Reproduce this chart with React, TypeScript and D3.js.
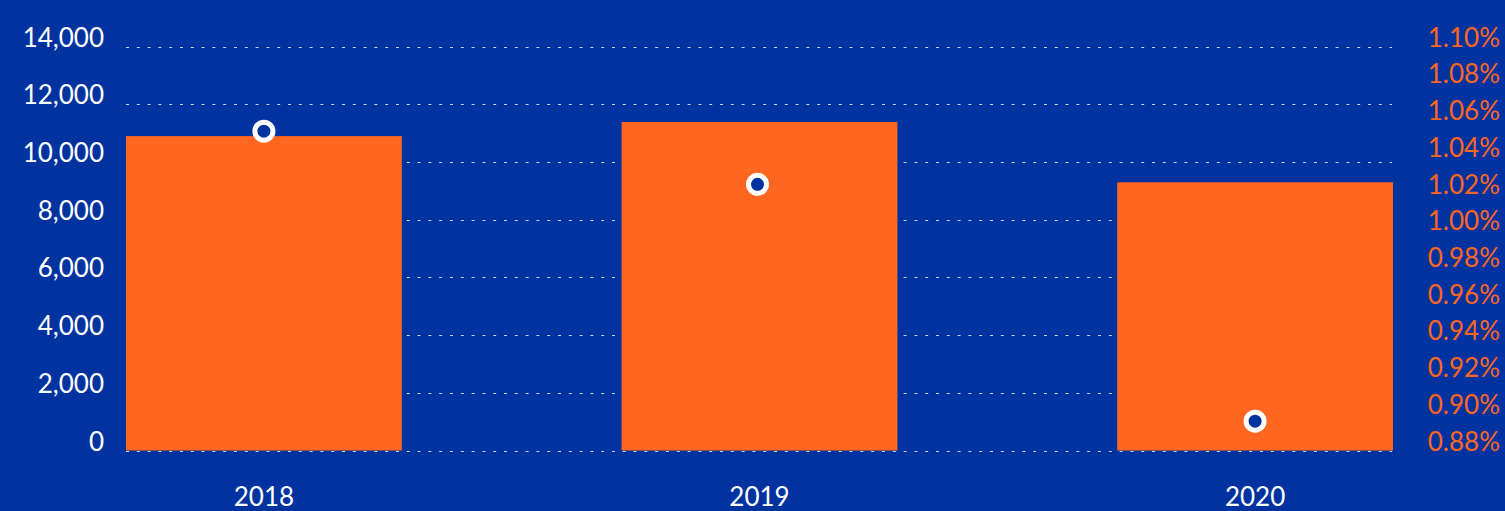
import React, { useEffect } from 'react';
import * as d3 from 'd3';

const years = ['2018', '2019', '2020'];
const volumes = [10900, 11390, 9300];
const rates = [1.054, 1.025, 0.896];
const leftTicks = [0, 2000, 4000, 6000, 8000, 10000, 12000, 14000];
const rightTicks = [0.88, 0.9, 0.92, 0.94, 0.96, 0.98, 1.0, 1.02, 1.04, 1.06, 1.08, 1.1];

const W = 1505;
const H = 511;
const BLUE = '#0033a0';
const ORANGE = '#ff6720';
const FONT = 'Lato, "Open Sans", sans-serif';

export default function App() {
  useEffect(() => {
    document.body.style.margin = '0';
  }, []);

  const x = d3.scaleBand<string>().domain(years).range([126, 1393]).paddingInner(0.4435).paddingOuter(0);
  const yLeft = d3.scaleLinear().domain([0, 14000]).range([450.5, 46.7]);
  const yRight = d3.scaleLinear().domain([0.88, 1.1]).range([450.5, 46.7]);
  const fmt = d3.format(',');

  const grid = (t: number, i: number) => (
    <line
      key={'g' + i}
      x1={126}
      x2={1392}
      y1={Math.round(yLeft(t)) + 0.5}
      y2={Math.round(yLeft(t)) + 0.5}
      stroke="#c9d3ee"
      strokeWidth={1}
      strokeDasharray="3,7.8"
    />
  );

  return (
    <svg width={W} height={H} style={{ display: 'block', background: BLUE }}>
      <rect width={W} height={H} fill={BLUE} />
      {/* gridlines */}
      {leftTicks.filter(t => t > 0).map(grid)}

      {/* bars */}
      {years.map((yr, i) => (
        <rect
          key={yr}
          x={x(yr)}
          y={yLeft(volumes[i])}
          width={x.bandwidth()}
          height={yLeft(0) - yLeft(volumes[i])}
          fill={ORANGE}
        />
      ))}
      {grid(0, 99)}

      {/* rate markers */}
      {years.map((yr, i) => (
        <circle
          key={'c' + yr}
          cx={(x(yr) as number) + x.bandwidth() / 2 - (i === 1 ? 2 : 0)}
          cy={yRight(rates[i])}
          r={9}
          fill={BLUE}
          stroke="#ffffff"
          strokeWidth={5}
        />
      ))}

      {/* left axis */}
      {leftTicks.map(t => (
        <text key={'l' + t} x={104} y={yLeft(t)} textAnchor="end" fill="#ffffff" fontFamily={FONT} fontSize={26}>
          {fmt(t)}
        </text>
      ))}

      {/* right axis */}
      {rightTicks.map(t => (
        <text key={'r' + t} x={1500} y={yRight(t)} textAnchor="end" fill={ORANGE} fontFamily={FONT} fontSize={26}>
          {t.toFixed(2) + '%'}
        </text>
      ))}

      {/* x axis */}
      {years.map(yr => (
        <text
          key={'x' + yr}
          x={(x(yr) as number) + x.bandwidth() / 2}
          y={506}
          textAnchor="middle"
          fill="#ffffff"
          fontFamily={FONT}
          fontSize={26}
        >
          {yr}
        </text>
      ))}
    </svg>
  );
}
